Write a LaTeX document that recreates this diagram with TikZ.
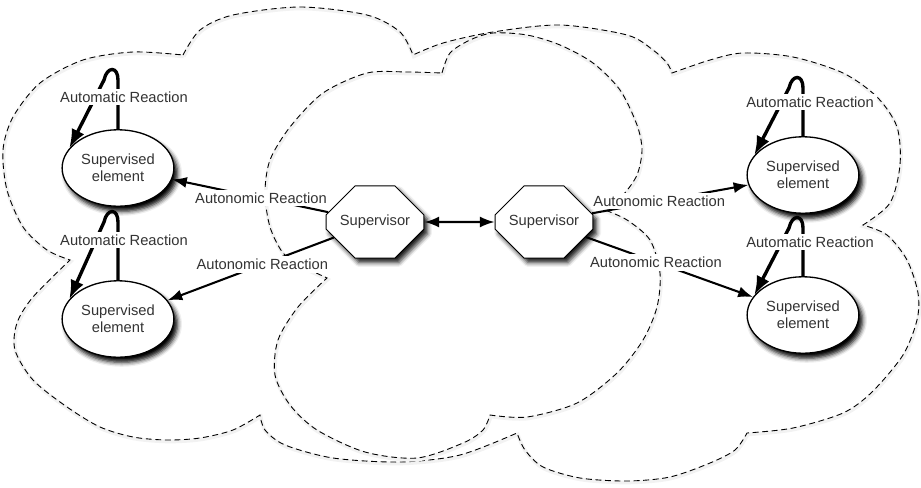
\documentclass[tikz,border=0pt]{standalone}
\usepackage{fontspec}
\setmainfont{Liberation Sans}
\usetikzlibrary{arrows.meta, shapes.geometric, shapes.misc, shadows.blur}

\tikzset{
    cloud line/.style={dash pattern=on 4pt off 2.5pt, line width=0.6pt,
        preaction={draw=black!5, line width=2.5pt, solid,
            transform canvas={xshift=0.5pt, yshift=-1pt}}},
    element/.style={ellipse, draw, line width=0.9pt, fill=white,
        minimum width=76pt, minimum height=52pt, inner sep=0pt, align=center,
        blur shadow={shadow xshift=2.5pt, shadow yshift=-3.5pt,
            shadow blur radius=3pt, shadow opacity=100}},
    supervisor/.style={chamfered rectangle, chamfered rectangle xsep=11.5pt,
        chamfered rectangle ysep=15pt, draw, line width=0.7pt, fill=white,
        minimum width=66.5pt, minimum height=49pt, inner sep=0pt,
        blur shadow={shadow xshift=2.5pt, shadow yshift=-3pt,
            shadow blur radius=3pt, shadow opacity=90}},
    tag/.style={fill=white, inner sep=2pt},
    reaction/.style={line width=1.4pt, -{Latex[length=10pt,width=7.5pt]}},
    automatic/.style={line width=2.3pt, -{Latex[length=13pt,width=9.5pt]}},
    peer/.style={line width=1.4pt,
        {Latex[length=10pt,width=7.5pt]}-{Latex[length=10pt,width=7.5pt]}},
}

\begin{document}
\begin{tikzpicture}[x=0.68pt, y=-0.68pt, font=\fontsize{10}{11.5}\selectfont, text=black!80]
    \useasboundingbox (0,0) rectangle (921,487);

    % Đám mây bao ngoài
    \draw[cloud line]
        plot[smooth] coordinates {(183,55) (200,30) (233,15) (300,7) (367,15) (400,32) (413,55)}
        -- plot[smooth] coordinates {(413,55) (443,43) (493,32) (560,25) (627,35) (653,50) (667,63) (672,73)}
        -- plot[smooth] coordinates {(672,73) (710,60) (743,53) (793,57) (843,73) (877,97) (897,127) (900,165) (890,203) (863,225)}
        -- plot[smooth] coordinates {(863,225) (887,235) (907,260) (918,293) (917,320) (903,355) (872,392) (843,413) (793,428) (747,433)}
        -- plot[smooth] coordinates {(747,433) (735,450) (710,463) (670,477) (627,481) (580,478) (543,467) (525,450) (517,433)}
        -- plot[smooth] coordinates {(517,433) (460,455) (400,462) (333,458) (285,445) (265,430) (260,415)}
        -- plot[smooth] coordinates {(260,415) (233,430) (200,438) (167,440) (133,437) (100,427) (67,407) (33,380) (15,350) (17,323) (33,297) (70,260)}
        -- plot[smooth] coordinates {(70,260) (47,250) (23,227) (7,190) (3,150) (13,117) (40,83) (83,60) (133,52) (183,55)};

    % Đám mây ở giữa
    \draw[cloud line]
        plot[smooth] coordinates {(442,73) (450,53) (470,40) (493,33) (527,35) (560,45) (593,63) (620,90) (637,125) (642,150) (637,175) (623,195) (605,210)}
        -- plot[smooth] coordinates {(605,210) (627,220) (650,240) (660,273) (657,307) (643,340) (617,373) (577,403) (527,417) (490,415)}
        -- plot[smooth] coordinates {(490,415) (483,430) (463,443) (417,458) (365,452) (317,430) (290,405) (275,375) (278,340) (298,307) (327,278)}
        -- plot[smooth] coordinates {(327,278) (300,265) (283,253) (270,227) (265,193) (270,160) (290,127) (323,93) (367,73) (407,72) (442,73)};

    % Các phần tử và bộ giám sát
    \node[element] (e1) at (118,168) {Supervised\\element};
    \node[element] (e2) at (118,319) {Supervised\\element};
    \node[element] (e3) at (803,175) {Supervised\\element};
    \node[element] (e4) at (803,315) {Supervised\\element};
    \node[supervisor] (s1) at (375,222) {Supervisor};
    \node[supervisor] (s2) at (544,222) {Supervisor};

    % Phản ứng tự động
    \foreach \n/\x/\y in {e1/118/80, e2/118/222, e3/803/88, e4/803/228}
        \draw[automatic] (\n.north) -- (\x,\y)
            .. controls (\x,\y-14) and (\x-11,\y-14) .. (\x-14,\y) -- (\n.158);
    \node[tag] (t1) at (124,97) {Automatic Reaction};
    \node[tag] (t2) at (124,240) {Automatic Reaction};
    \node[tag] (t3) at (810,102) {Automatic Reaction};
    \node[tag] (t4) at (810,242) {Automatic Reaction};

    % Phản ứng tự trị
    \draw[reaction] (s1) -- (e1) node[tag, pos=0.43] (r1) {Autonomic Reaction};
    \draw[reaction] (s1) -- (e2) node[tag, pos=0.43] (r2) {Autonomic Reaction};
    \draw[reaction] (s2) -- (e3) node[tag, pos=0.43] (r3) {Autonomic Reaction};
    \draw[reaction] (s2) -- (e4) node[tag, pos=0.42] (r4) {Autonomic Reaction};
    \draw[peer] (s1) -- (s2);
\end{tikzpicture}
\end{document}
